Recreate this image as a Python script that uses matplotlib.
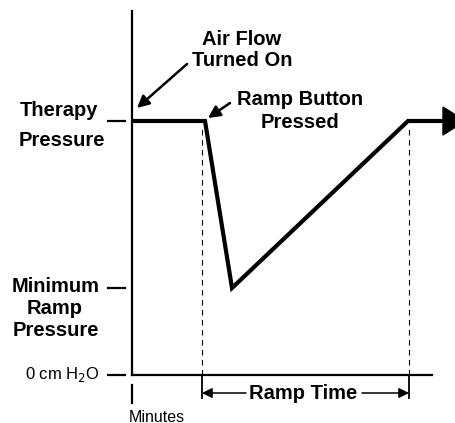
import matplotlib
matplotlib.use("Agg")
import matplotlib.pyplot as plt
from matplotlib.patches import Polygon

plt.rcParams['font.family'] = ['Liberation Sans', 'DejaVu Sans']

# Data (time in arbitrary minutes, pressure in arbitrary units)
time_pts = [0.0, 7.3, 10.0, 27.6, 31.1]
pressure_pts = [25.4, 25.4, 8.7, 25.4, 25.4]
ramp_marks = [7.0, 27.7]
therapy_level = 25.4
min_ramp_level = 8.7
zero_level = 0.0

W, H = 455, 423
fig = plt.figure(figsize=(W / 100, H / 100), dpi=100)
ax = fig.add_axes([132 / W, (H - 375) / H, 300 / W, 364 / H])
ax.set_xlim(0, 30)
ax.set_ylim(0, 36.4)
ax.set_xticks([])
ax.set_yticks([])
for s in ['top', 'right']:
    ax.spines[s].set_visible(False)
for s in ['left', 'bottom']:
    ax.spines[s].set_linewidth(1.6)
ax.spines['bottom'].set_bounds(0, 30)

# pressure curve
ax.plot(time_pts, pressure_pts, color='black', lw=3, solid_joinstyle='miter',
        solid_capstyle='butt', clip_on=False)
# arrowhead at end
xe, ye = time_pts[-1], pressure_pts[-1]
ax.add_patch(Polygon([(xe, ye + 1.4), (xe + 2.2, ye), (xe, ye - 1.4)],
                     closed=True, color='black', clip_on=False))

# dashed vertical marks
for xm in ramp_marks:
    ax.plot([xm, xm], [zero_level, therapy_level - 0.4], color='black', lw=0.8,
            ls=(0, (5, 4)), clip_on=False)
    ax.plot([xm, xm], [zero_level, -2.3], color='black', lw=1.3, clip_on=False)

# Ramp Time annotation
ymid = -1.8
xc = 17.1
ax.text(xc, ymid, 'Ramp Time', ha='center', va='center', fontsize=14.5,
        fontweight='bold')
arrow_small = dict(arrowstyle='-|>', lw=1.1, color='black',
                   mutation_scale=15, shrinkA=0, shrinkB=0)
ax.annotate('', xy=(ramp_marks[0], ymid), xytext=(11.4, ymid),
            arrowprops=arrow_small, annotation_clip=False)
ax.annotate('', xy=(ramp_marks[1], ymid), xytext=(23.0, ymid),
            arrowprops=arrow_small, annotation_clip=False)

# Minutes tick
ax.plot([0, 0], [-1.0, -2.8], color='black', lw=1.6, clip_on=False)
ax.text(-0.3, -4.2, 'Minutes', ha='left', va='center', fontsize=11.5)

# left tick dashes
for lvl in [therapy_level, min_ramp_level, zero_level]:
    ax.plot([-2.4, -0.7], [lvl, lvl], color='black', lw=1.6, clip_on=False)

bold = dict(ha='center', va='center', fontsize=14.5, fontweight='bold')
ax.text(-7.3, 26.4, 'Therapy', **bold)
ax.text(-7.0, 23.4, 'Pressure', **bold)
ax.text(-7.65, 8.9, 'Minimum', **bold)
ax.text(-7.7, 6.6, 'Ramp', **bold)
ax.text(-7.6, 4.4, 'Pressure', **bold)
ax.text(-3.2, 0.1, '0 cm H$_2$O', ha='right', va='center', fontsize=12)

arrow_big = dict(arrowstyle='-|>', lw=1.8, color='black',
                 mutation_scale=18, shrinkA=0, shrinkB=0)
ax.text(11.0, 33.5, 'Air Flow', **bold)
ax.text(11.05, 31.4, 'Turned On', **bold)
ax.annotate('', xy=(0.5, 26.7), xytext=(5.5, 31.1),
            arrowprops=arrow_big, annotation_clip=False)

ax.text(16.8, 27.5, 'Ramp Button', **bold)
ax.text(16.8, 25.2, 'Pressed', **bold)
ax.annotate('', xy=(7.6, 25.7), xytext=(9.8, 27.2),
            arrowprops=arrow_big, annotation_clip=False)

fig.savefig('out.png', dpi=100)
